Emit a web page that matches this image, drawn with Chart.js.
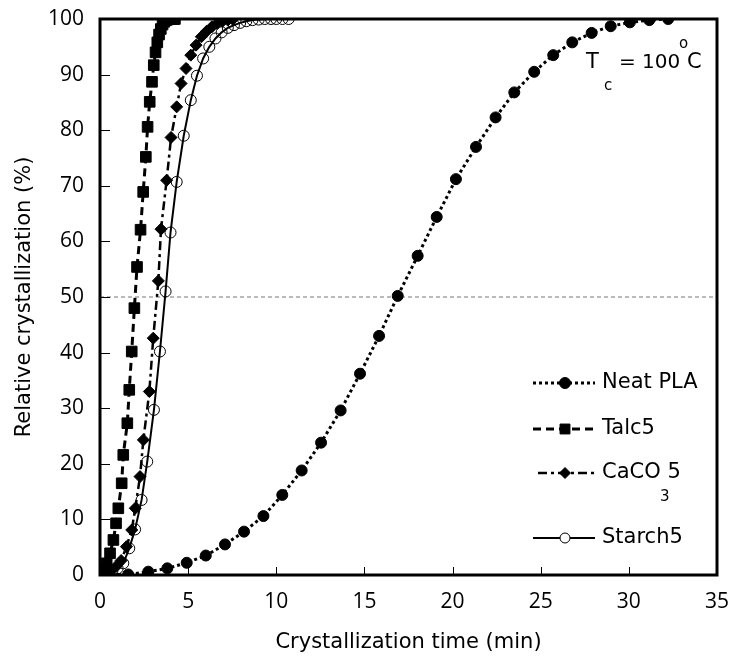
<!DOCTYPE html>
<html>
<head>
<meta charset="utf-8">
<script src="https://cdn.jsdelivr.net/npm/chart.js@4.4.1/dist/chart.umd.min.js"></script>
<style>
html, body { margin: 0; padding: 0; background: #fff; }
</style>
</head>
<body>
<canvas id="myChart" width="733" height="657"></canvas>
<script>
// crystallization time (min) / relative crystallization (%)
const timePLA = [0, 0.5, 1.6, 2.74, 3.82, 4.92, 6.0, 7.09, 8.17, 9.27, 10.34, 11.44, 12.54, 13.65, 14.75, 15.83,
                 16.89, 18.02, 19.10, 20.19, 21.33, 22.44, 23.5, 24.63, 25.71, 26.79, 27.89, 28.97, 30.06, 31.16, 32.23];
const relPLA = [0, 0, 0.1, 0.6, 1.2, 2.2, 3.5, 5.5, 7.8, 10.6, 14.4, 18.8, 23.8, 29.6, 36.2, 43.0,
                50.2, 57.4, 64.4, 71.2, 77.0, 82.3, 86.8, 90.5, 93.5, 95.8, 97.5, 98.7, 99.4, 99.8, 100];

const timeTalc = [0, 0.19, 0.38, 0.57, 0.76, 0.91, 1.04, 1.23, 1.32, 1.55, 1.66, 1.80, 1.95, 2.1, 2.3,
                  2.45, 2.6, 2.7, 2.82, 2.95, 3.05, 3.15, 3.25, 3.35, 3.45, 3.55, 3.65, 3.75, 3.85, 3.95,
                  4.05, 4.15, 4.25];
const relTalc = [0, 0.9, 2.1, 3.9, 6.3, 9.3, 12.0, 16.5, 21.6, 27.3, 33.3, 40.2, 48.0, 55.4, 62.1,
                 68.9, 75.2, 80.6, 85.1, 88.7, 91.7, 94.0, 95.8, 97.2, 98.2, 99.0, 99.5, 99.8, 99.9, 100,
                 100, 100, 100];

const timeCaCO3 = [0, 0.3, 0.6, 0.9, 1.2, 1.5, 1.8, 2.0, 2.27, 2.46, 2.8, 3.02, 3.31, 3.46, 3.78,
                   4.03, 4.35, 4.6, 4.88, 5.15, 5.45, 5.75, 6.05, 6.35, 6.65, 6.95, 7.25, 7.55];
const relCaCO3 = [0, 0.3, 0.8, 1.5, 2.6, 5.1, 8.1, 12.0, 17.7, 24.3, 33.0, 42.6, 52.9, 62.2, 71.0,
                  78.7, 84.2, 88.4, 91.1, 93.5, 95.3, 96.8, 97.8, 98.6, 99.2, 99.6, 99.8, 100];

const timeStarch = [0, 0.35, 0.7, 1.0, 1.32, 1.66, 1.99, 2.36, 2.68, 3.06, 3.4, 3.72, 4.0, 4.35, 4.75, 5.15,
                    5.5, 5.85, 6.2, 6.55, 6.9, 7.25, 7.6, 7.95, 8.3, 8.65, 9.0, 9.35, 9.7, 10.0, 10.35, 10.7];
const relStarch = [0, 0.2, 0.6, 1.2, 2.1, 4.8, 8.2, 13.5, 20.4, 29.7, 40.2, 51.0, 61.6, 70.7, 79.0, 85.4,
                   89.8, 92.9, 95.0, 96.5, 97.6, 98.4, 98.9, 99.3, 99.6, 99.8, 99.9, 100, 100, 100, 100, 100];

const halfLineX = [0, 35];
const halfLineY = [50, 50];

const seriesNames = ["Neat PLA", "Talc5", "CaCO 5", "Starch5"];
const xTicks = [0, 5, 10, 15, 20, 25, 30, 35];
const yTicks = [0, 10, 20, 30, 40, 50, 60, 70, 80, 90, 100];

const TICKFONT = "'Open Sans', sans-serif";
const FONT = "'DejaVu Sans', sans-serif";

function pts(xs, ys) {
    return xs.map((x, i) => ({x: x, y: ys[i]}));
}

const datasets = [
    {
        label: seriesNames[0],
        data: pts(timePLA, relPLA),
        borderColor: '#000', backgroundColor: '#000',
        borderWidth: 3, borderDash: [3, 3],
        pointStyle: 'circle', pointRadius: 5.5, pointBorderWidth: 1,
    },
    {
        label: seriesNames[1],
        data: pts(timeTalc, relTalc),
        borderColor: '#000', backgroundColor: '#000',
        borderWidth: 3, borderDash: [8, 5],
        pointStyle: 'rect', pointRadius: 7.5, pointBorderWidth: 1,
    },
    {
        label: seriesNames[2],
        data: pts(timeCaCO3, relCaCO3),
        borderColor: '#000', backgroundColor: '#000',
        borderWidth: 2.5, borderDash: [9, 4, 3, 4],
        pointStyle: 'rectRot', pointRadius: 6, pointBorderWidth: 1,
    },
    {
        label: seriesNames[3],
        data: pts(timeStarch, relStarch),
        borderColor: '#000', backgroundColor: 'rgba(0,0,0,0)',
        borderWidth: 2, borderDash: [],
        pointStyle: 'circle', pointRadius: 5.5, pointBorderWidth: 1,
    },
    {
        label: 'half',
        data: pts(halfLineX, halfLineY),
        borderColor: '#777', borderWidth: 1, borderDash: [4, 3],
        pointRadius: 0,
    }
];

function drawMarker(ctx, ds, r, x, y) {
    Chart.helpers.drawPoint(ctx, {
        pointStyle: ds.pointStyle, radius: r,
        borderWidth: ds.pointBorderWidth, rotation: 0
    }, x, y);
}

const extras = {
    id: 'extras',
    afterDraw(chart) {
        const ctx = chart.ctx;
        const a = chart.chartArea;
        const xs = chart.scales.x, ys = chart.scales.y;
        ctx.save();
        // inward ticks
        ctx.strokeStyle = '#000';
        ctx.lineWidth = 1;
        ctx.setLineDash([]);
        ctx.beginPath();
        yTicks.slice(1, -1).forEach(v => {
            const py = Math.round(ys.getPixelForValue(v)) + 0.5;
            ctx.moveTo(a.left, py); ctx.lineTo(a.left + 10, py);
        });
        xTicks.slice(1, -1).forEach(v => {
            const px = Math.round(xs.getPixelForValue(v)) + 0.5;
            ctx.moveTo(px, a.bottom); ctx.lineTo(px, a.bottom - 8);
        });
        ctx.stroke();
        // frame
        ctx.lineWidth = 3;
        ctx.strokeRect(a.left, a.top, a.right - a.left, a.bottom - a.top);

        // legend
        const rows = [383, 429, 473, 538];
        const starts = [533, 533, 538, 533];
        const radii = [5.5, 7, 5.5, 5];
        ctx.textBaseline = 'middle';
        ctx.textAlign = 'left';
        ctx.font = '21px ' + FONT;
        datasets.slice(0, 4).forEach((ds, i) => {
            const y = rows[i];
            ctx.strokeStyle = '#000';
            ctx.lineWidth = ds.borderWidth;
            ctx.setLineDash(ds.borderDash);
            ctx.beginPath();
            ctx.moveTo(starts[i], y); ctx.lineTo(595, y);
            ctx.stroke();
            ctx.setLineDash([]);
            ctx.fillStyle = ds.backgroundColor === 'rgba(0,0,0,0)' ? '#fff' : '#000';
            ctx.lineWidth = 1;
            drawMarker(ctx, ds, radii[i], 565, y);
            ctx.fillStyle = '#000';
            ctx.fillText(ds.label, 602, y);
        });
        ctx.font = '15px ' + FONT;
        ctx.fillText('3', 660, 497);

        // Tc annotation
        ctx.font = '21px ' + FONT;
        ctx.fillText('T', 586, 63);
        ctx.font = '20px ' + FONT;
        ctx.fillText('= 100', 619, 63);
        ctx.font = '21px ' + FONT;
        ctx.fillText('C', 687, 63);
        ctx.font = '15px ' + FONT;
        ctx.fillText('c', 604, 86);
        ctx.fillText('o', 679, 44);
        ctx.restore();
    }
};

new Chart(document.getElementById("myChart"), {
    type: 'scatter',
    data: { datasets: datasets },
    options: {
        responsive: false,
        animation: false,
        showLine: true,
        layout: { padding: { top: 19, right: 16, left: 0, bottom: 0 } },
        plugins: {
            legend: { display: false },
            tooltip: { enabled: false }
        },
        scales: {
            x: {
                type: 'linear', min: 0, max: 35,
                afterFit: s => { s.height = 82; s.paddingLeft = 0; s.paddingRight = 0; },
                afterBuildTicks: s => { s.ticks = xTicks.map(v => ({value: v})); },
                grid: { display: false, drawTicks: false },
                border: { display: false },
                ticks: { color: '#000', padding: 14, font: { size: 21, family: TICKFONT } },
                title: {
                    display: true, text: 'Crystallization time (min)', color: '#000',
                    font: { size: 21, family: FONT }, padding: { top: 0, bottom: 2 }
                }
            },
            y: {
                min: 0, max: 100,
                afterFit: s => { s.width = 100; s.paddingTop = 0; s.paddingBottom = 0; },
                afterBuildTicks: s => { s.ticks = yTicks.map(v => ({value: v})); },
                grid: { display: false, drawTicks: false },
                border: { display: false },
                ticks: { color: '#000', padding: 16, font: { size: 21, family: TICKFONT } },
                title: {
                    display: true, text: 'Relative crystallization (%)', color: '#000',
                    font: { size: 21, family: FONT }, padding: { top: 12, bottom: 0 }
                }
            }
        }
    },
    plugins: [extras]
});
</script>
</body>
</html>
